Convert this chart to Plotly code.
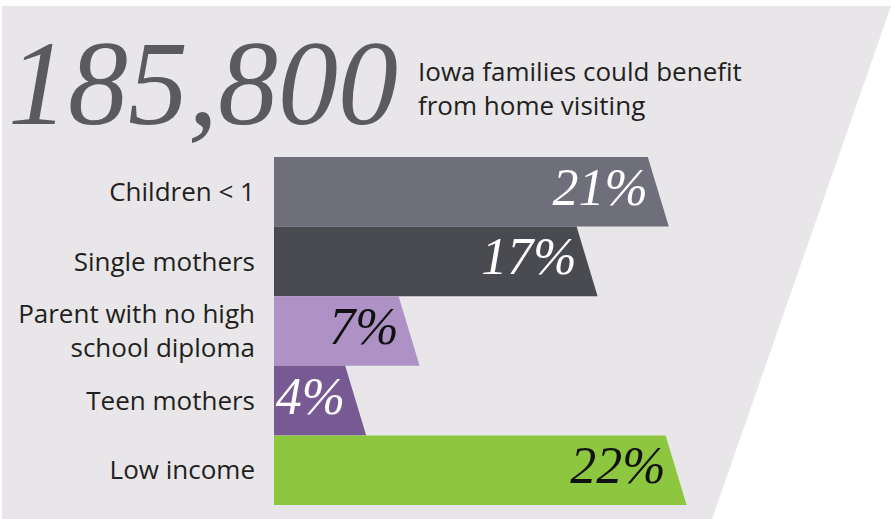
import plotly.graph_objects as go

# ---- data ----
categories = ["Children < 1", "Single mothers", "Parent with no high<br>school diploma",
              "Teen mothers", "Low income"]
values = [21, 17, 7, 4, 22]
value_labels = ["21%", "17%", "7%", "4%", "22%"]
bar_colors = ["#6f6f7b", "#4a4b50", "#ae91c5", "#775a94", "#8dc63f"]
text_colors = ["#ffffff", "#ffffff", "#111111", "#ffffff", "#111111"]
headline_number = "185,800"
headline_text = "Iowa families could benefit<br>from home visiting"

# ---- layout geometry (pixels) ----
W, H = 891, 519
L, R, T, B = 274, 0, 157, 14
PX_PER_UNIT = 17.8
SLANT = 21 / PX_PER_UNIT
plot_w = W - L - R
plot_h = H - T - B


def px2x(px):
    return (px - L) / plot_w


def py2y(py):
    return (H - B - py) / plot_h


fig = go.Figure()

for i, (v, c) in enumerate(zip(values, bar_colors)):
    fig.add_trace(go.Scatter(
        x=[0, v, v + SLANT, 0, 0],
        y=[i - 0.5, i - 0.5, i + 0.5, i + 0.5, i - 0.5],
        mode="lines", fill="toself", fillcolor=c,
        line=dict(width=0, color=c), hoverinfo="skip", showlegend=False,
    ))

fig.add_trace(go.Scatter(
    x=values, y=list(range(len(values))), mode="text",
    text=value_labels, textposition="middle left",
    textfont=dict(family="Liberation Serif", size=52, style="italic", color=text_colors),
    hoverinfo="skip", showlegend=False,
))

# background trapezoid
x0, x1, x2 = px2x(2), px2x(891), px2x(712)
y0, y1 = py2y(6), py2y(519)
fig.add_shape(type="path", xref="paper", yref="paper", layer="below",
              path=f"M {x0} {y0} L {x1} {y0} L {x2} {y1} L {x0} {y1} Z",
              fillcolor="#e8e6e9", line=dict(width=0))

fig.add_annotation(xref="paper", yref="paper", x=px2x(6), y=py2y(84),
                   xanchor="left", yanchor="middle", showarrow=False,
                   text=headline_number,
                   font=dict(family="Liberation Serif", size=120, style="italic", color="#5a5b5d"))
fig.add_annotation(xref="paper", yref="paper", x=px2x(416), y=py2y(88),
                   xanchor="left", yanchor="middle", showarrow=False, align="left",
                   text=headline_text,
                   font=dict(family="Open Sans", size=26, color="#231f20"))

fig.update_layout(
    width=W, height=H,
    margin=dict(l=L, r=R, t=T, b=B, autoexpand=False),
    paper_bgcolor="#ffffff", plot_bgcolor="rgba(0,0,0,0)",
    xaxis=dict(range=[0, plot_w / PX_PER_UNIT], visible=False, fixedrange=True),
    yaxis=dict(range=[len(values) - 0.5, -0.5], tickvals=list(range(len(values))),
               ticktext=categories, showgrid=False, zeroline=False, showline=False,
               ticks="", ticklabelstandoff=18, automargin=False,
               tickfont=dict(family="Open Sans", size=26, color="#231f20"),
               fixedrange=True),
)

fig.write_html("out.html", config={"displayModeBar": False},
               post_script="document.body.style.margin='0';document.body.style.overflow='hidden';")
